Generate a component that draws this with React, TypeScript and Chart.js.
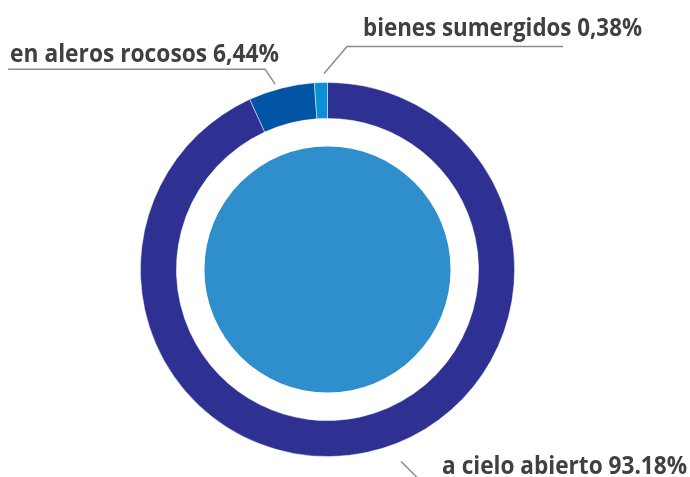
import React, { useEffect, useRef } from "react";
import { Chart, registerables } from "chart.js";

Chart.register(...registerables);

// Categories and label texts as printed on the chart
const categories = ["a cielo abierto", "en aleros rocosos", "bienes sumergidos"];
const labelTexts = ["a cielo abierto 93.18%", "en aleros rocosos 6,44%", "bienes sumergidos 0,38%"];
const drawnShares = [93.18, 5.7, 1.12];
const ringColors = ["#2E3192", "#0254A4", "#0B8FD5"];
const innerColor = "#2F8FCC";

// Leader-line / label styling per category (offsets in px, angles in degrees)
const labelStyles = [
  { nudge: -8.7, gap: 18.5, elbow: [24, 24], run: 0, text: [17, -11], maxW: 245 },
  { nudge: -1.5, gap: 5.5, elbow: [-10, -15], run: -257, text: [-255, -7], maxW: 269 },
  { nudge: 1.0, gap: 9, elbow: [23, -27], run: 216, text: [16, -10], maxW: 279 },
];

const labelPlugin = {
  id: "leaderLabels",
  afterDraw(chart: any) {
    const ctx = chart.ctx as CanvasRenderingContext2D;
    const meta = chart.getDatasetMeta(0);
    ctx.save();
    meta.data.forEach((arc: any, i: number) => {
      const st = labelStyles[i];
      const props = arc.getProps(["x", "y", "startAngle", "endAngle", "outerRadius"], true);
      const a = (props.startAngle + props.endAngle) / 2 + (st.nudge * Math.PI) / 180;
      const r = props.outerRadius + st.gap;
      const sx = props.x + r * Math.cos(a);
      const sy = props.y + r * Math.sin(a);
      const ex = sx + st.elbow[0];
      const ey = sy + st.elbow[1];
      const hx = ex + st.run;
      ctx.strokeStyle = "#8C8C8C";
      ctx.lineWidth = 1.5;
      ctx.beginPath();
      ctx.moveTo(sx, sy);
      ctx.lineTo(ex, ey);
      if (st.run !== 0) ctx.lineTo(hx, ey);
      ctx.stroke();
      ctx.fillStyle = "#404040";
      ctx.font = 'bold 25px "Open Sans", sans-serif';
      ctx.textAlign = "left";
      ctx.textBaseline = "alphabetic";
      ctx.fillText(labelTexts[i], ex + st.text[0], ey + st.text[1], st.maxW);
    });
    ctx.restore();
  },
};

export default function App() {
  const ref = useRef<HTMLCanvasElement | null>(null);
  useEffect(() => {
    document.body.style.margin = "0";
    const chart = new Chart(ref.current as HTMLCanvasElement, {
      type: "doughnut",
      data: {
        labels: categories,
        datasets: [
          {
            data: drawnShares,
            backgroundColor: ringColors,
            borderColor: "rgba(255,255,255,0.6)",
            borderWidth: 0.8,
            weight: 36,
          },
          {
            data: [1],
            backgroundColor: ["rgba(0,0,0,0)"],
            borderWidth: 0,
            weight: 28,
          },
          {
            data: [1],
            backgroundColor: [innerColor],
            borderWidth: 0,
            weight: 123,
          },
        ],
      },
      options: {
        responsive: false,
        animation: false,
        cutout: 0,
        layout: { padding: { left: 140, right: 175, top: 82, bottom: 20 } },
        plugins: {
          legend: { display: false },
          tooltip: { enabled: false },
        },
      },
      plugins: [labelPlugin],
    } as any);
    return () => chart.destroy();
  }, []);
  return (
    <div style={{ position: "fixed", left: 0, top: 0, width: 690, height: 477, background: "#fff" }}>
      <canvas ref={ref} width={690} height={477} />
    </div>
  );
}
